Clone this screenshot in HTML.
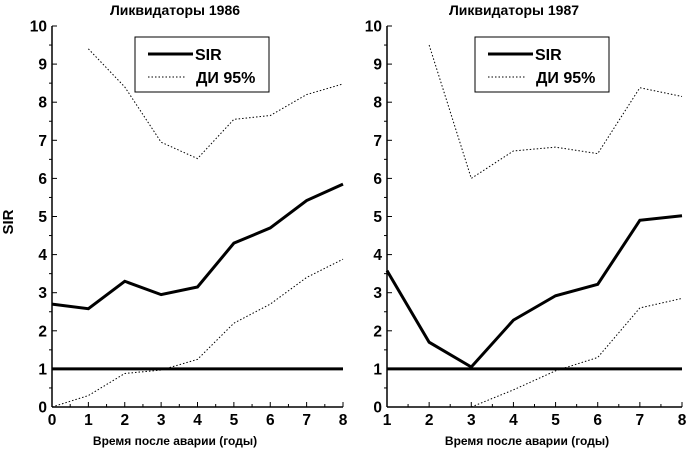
<!DOCTYPE html>
<html><head><meta charset="utf-8"><style>
body{margin:0;background:#fff}
svg{display:block}
text{font-family:"Liberation Sans",Arial,sans-serif;font-weight:bold;fill:#000}
</style></head><body>
<svg id="c" width="686" height="451"></svg>
<script>
const leftX=[0,1,2,3,4,5,6,7,8];
const leftSIR=[2.7,2.58,3.3,2.95,3.15,4.3,4.7,5.42,5.85];
const leftUpperX=[1,2,3,4,5,6,7,8];
const leftUpper=[9.4,8.4,6.95,6.52,7.55,7.65,8.2,8.48];
const leftLower=[0,0.3,0.88,0.97,1.25,2.2,2.7,3.4,3.88];
const rightX=[1,2,3,4,5,6,7,8];
const rightSIR=[3.58,1.7,1.05,2.28,2.92,3.22,4.9,5.02];
const rightUpperX=[2,3,4,5,6,7,8];
const rightUpper=[9.5,6.0,6.72,6.82,6.65,8.38,8.15];
const rightLowerX=[3,4,5,6,7,8];
const rightLower=[0,0.45,0.95,1.3,2.6,2.85];
const yTicks=[0,1,2,3,4,5,6,7,8,9,10];
const leftTicks=[0,1,2,3,4,5,6,7,8];
const rightTicks=[1,2,3,4,5,6,7,8];
const svg=document.getElementById('c');
const NS='http://www.w3.org/2000/svg';
function mk(t,a,txt){const e=document.createElementNS(NS,t);for(const k in a)e.setAttribute(k,a[k]);if(txt!==undefined)e.textContent=txt;svg.appendChild(e);return e;}
function panel(p){
  const x=v=>p.x0+(v-p.xmin)/(p.xmax-p.xmin)*(p.x1-p.x0);
  const y=v=>407-v/10*381;
  let e=mk('line',{x1:p.x0,y1:26,x2:p.x0,y2:407,stroke:'#000','stroke-width':1.5});
  
  
  e=mk('line',{x1:p.x0,y1:407,x2:p.x1,y2:407,stroke:'#000','stroke-width':1.5});
  
  
  yTicks.forEach(t=>{
    mk('line',{x1:p.x0,y1:y(t),x2:p.x0+5,y2:y(t),stroke:'#000'});
    if(t<10)mk('line',{x1:p.x0-3,y1:y(t+0.5),x2:p.x0,y2:y(t+0.5),stroke:'#000'});
    e=mk('text',{x:p.x0-5,y:y(t)+5.5,'text-anchor':'end','font-size':15.5},t);
    
    
  });
  p.ticks.forEach((t,i)=>{
    mk('line',{x1:x(t),y1:407,x2:x(t),y2:402,stroke:'#000'});
    if(i<p.ticks.length-1)mk('line',{x1:x(t+0.5),y1:407,x2:x(t+0.5),y2:404,stroke:'#000'});
    e=mk('text',{x:x(t),y:425,'text-anchor':'middle','font-size':15.5},t);
    
    
  });
  const pts=(xs,ys)=>xs.map((v,i)=>x(v)+','+y(ys[i])).join(' ');
  e=mk('line',{x1:p.x0,y1:y(1),x2:p.x1,y2:y(1),stroke:'#000','stroke-width':3});
  
  
  e=mk('polyline',{points:pts(p.ux,p.up),fill:'none',stroke:'#000','stroke-width':1,'stroke-dasharray':'1.5,2'});
  
  
  e=mk('polyline',{points:pts(p.lx,p.lo),fill:'none',stroke:'#000','stroke-width':1,'stroke-dasharray':'1.5,2'});
  
  
  e=mk('polyline',{points:pts(p.sx,p.sir),fill:'none',stroke:'#000','stroke-width':3,'stroke-linejoin':'miter'});
  
  
  e=mk('text',{x:p.tx,y:15,'text-anchor':'middle','font-size':14},p.title);
  
  
  e=mk('text',{x:p.xtx,y:445,'text-anchor':'middle','font-size':12},'Время после аварии (годы)');
  
  
  const lx=p.lgx;
  e=mk('rect',{x:lx,y:37,width:134,height:55,fill:'#fff',stroke:'#000','stroke-width':1});
  
  
  mk('line',{x1:lx+13,y1:54,x2:lx+58,y2:54,stroke:'#000','stroke-width':3});
  mk('text',{x:lx+60,y:60,'font-size':16},'SIR');
  mk('line',{x1:lx+13,y1:77,x2:lx+50,y2:77,stroke:'#000','stroke-dasharray':'1.5,2'});
  mk('text',{x:lx+61,y:83,'font-size':16},'ДИ 95%');
}
panel({n:'left',x0:52,x1:343,xmin:0,xmax:8,ticks:leftTicks,sx:leftX,sir:leftSIR,ux:leftUpperX,up:leftUpper,lx:leftX,lo:leftLower,title:'Ликвидаторы 1986',tx:175,xtx:175,lgx:135});
panel({n:'right',x0:387,x1:682,xmin:1,xmax:8,ticks:rightTicks,sx:rightX,sir:rightSIR,ux:rightUpperX,up:rightUpper,lx:rightLowerX,lo:rightLower,title:'Ликвидаторы 1987',tx:514,xtx:527,lgx:475});
const yl=mk('text',{x:0,y:0,'text-anchor':'middle','font-size':15,transform:'translate(13,222) rotate(-90)'},'SIR');


</script>
</body></html>
